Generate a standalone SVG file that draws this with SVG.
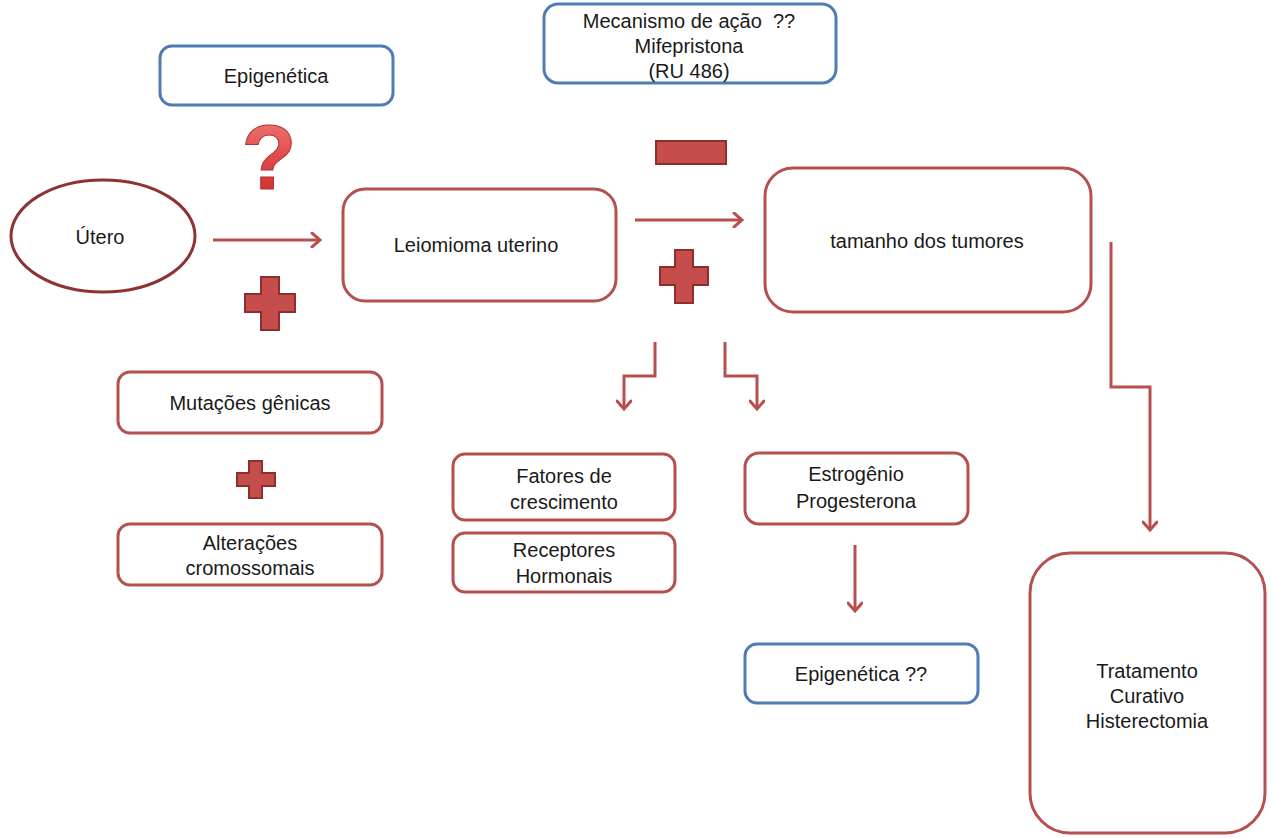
<svg xmlns="http://www.w3.org/2000/svg" width="1273" height="838" viewBox="0 0 1273 838">
<defs>
<style>
.rb{fill:#fff;stroke:#b5504f;stroke-width:3}
.bb{fill:#fff;stroke:#4f7db3;stroke-width:3}
.t{font-family:"Liberation Sans",Arial,sans-serif;font-size:20px;fill:#1a1a1a;text-anchor:middle}
.c{fill:none;stroke:#b84f4f;stroke-width:3}
.sym{fill:#c54e4c;stroke:#8e2f2e;stroke-width:2}
</style>
<marker id="ah" markerWidth="16" markerHeight="16" refX="10" refY="8" orient="auto" markerUnits="userSpaceOnUse">
<path d="M2,1 L10,8 L2,15" fill="none" stroke="#b84f4f" stroke-width="3" stroke-linecap="round"/>
</marker>
<linearGradient id="qg" x1="0" y1="0" x2="0" y2="1">
<stop offset="0" stop-color="#f08080"/>
<stop offset="0.5" stop-color="#e04a4a"/>
<stop offset="1" stop-color="#c02a2a"/>
</linearGradient>
</defs>

<g id="connectors">
<line class="c" x1="213" y1="240" x2="320" y2="240" marker-end="url(#ah)"/>
<line class="c" x1="635" y1="220" x2="742" y2="220" marker-end="url(#ah)"/>
<polyline class="c" points="655,342 655,376 624,376 624,409" marker-end="url(#ah)"/>
<polyline class="c" points="725,342 725,376 757,376 757,409" marker-end="url(#ah)"/>
<line class="c" x1="855" y1="545" x2="855" y2="611" marker-end="url(#ah)"/>
<polyline class="c" points="1111,242 1111,387 1150,387 1150,530" marker-end="url(#ah)"/>
</g>

<g id="epigenetica">
<rect class="bb" x="160" y="46" width="233" height="59" rx="12"/>
<text class="t" x="276" y="83">Epigenética</text>
</g>

<g id="question">
<text x="269" y="189" font-family="Liberation Sans,Arial,sans-serif" font-weight="bold" font-size="90" text-anchor="middle" fill="url(#qg)" stroke="#b83030" stroke-width="1">?</text>
</g>

<g id="mecanismo">
<rect class="bb" x="544" y="4" width="292" height="79" rx="14"/>
<text class="t" x="689" y="28" xml:space="preserve">Mecanismo de ação  ??</text>
<text class="t" x="689" y="53">Mifepristona</text>
<text class="t" x="689" y="78">(RU 486)</text>
</g>

<g id="minus">
<rect class="sym" x="656" y="141" width="70" height="23"/>
</g>

<g id="utero">
<ellipse cx="103" cy="236" rx="92" ry="56" fill="#fff" stroke="#8e3333" stroke-width="3"/>
<text class="t" x="100" y="244">Útero</text>
</g>

<g id="plus1">
<path class="sym" d="M261,277 h18 v17 h16 v18 h-16 v18 h-18 v-18 h-16 v-18 h16 z"/>
</g>

<g id="leiomioma">
<rect class="rb" x="343" y="189" width="273" height="112" rx="22"/>
<text class="t" x="476" y="252">Leiomioma uterino</text>
</g>

<g id="plus2">
<path class="sym" d="M675,250 h18 v17 h15 v18 h-15 v18 h-18 v-18 h-15 v-18 h15 z"/>
</g>

<g id="tamanho">
<rect class="rb" x="765" y="168" width="326" height="144" rx="28"/>
<text class="t" x="927" y="248">tamanho dos tumores</text>
</g>

<g id="mutacoes">
<rect class="rb" x="118" y="372" width="264" height="61" rx="12"/>
<text class="t" x="250" y="410">Mutações gênicas</text>
</g>

<g id="plus3">
<path class="sym" d="M249,461 h13 v12 h13 v13 h-13 v12 h-13 v-12 h-12 v-13 h12 z"/>
</g>

<g id="alteracoes">
<rect class="rb" x="118" y="524" width="264" height="61" rx="12"/>
<text class="t" x="250" y="550">Alterações</text>
<text class="t" x="250" y="575">cromossomais</text>
</g>

<g id="fatores">
<rect class="rb" x="453" y="454" width="222" height="66" rx="12"/>
<text class="t" x="564" y="483">Fatores de</text>
<text class="t" x="564" y="509">crescimento</text>
</g>

<g id="receptores">
<rect class="rb" x="453" y="533" width="222" height="59" rx="12"/>
<text class="t" x="564" y="557">Receptores</text>
<text class="t" x="564" y="583">Hormonais</text>
</g>

<g id="estrogenio">
<rect class="rb" x="745" y="453" width="223" height="71" rx="14"/>
<text class="t" x="856" y="481">Estrogênio</text>
<text class="t" x="856" y="508">Progesterona</text>
</g>

<g id="epigenetica2">
<rect class="bb" x="745" y="644" width="233" height="59" rx="12"/>
<text class="t" x="861" y="681">Epigenética ??</text>
</g>

<g id="tratamento">
<rect class="rb" x="1030" y="553" width="235" height="280" rx="40"/>
<text class="t" x="1147" y="678">Tratamento</text>
<text class="t" x="1147" y="703">Curativo</text>
<text class="t" x="1147" y="728">Histerectomia</text>
</g>
</svg>
